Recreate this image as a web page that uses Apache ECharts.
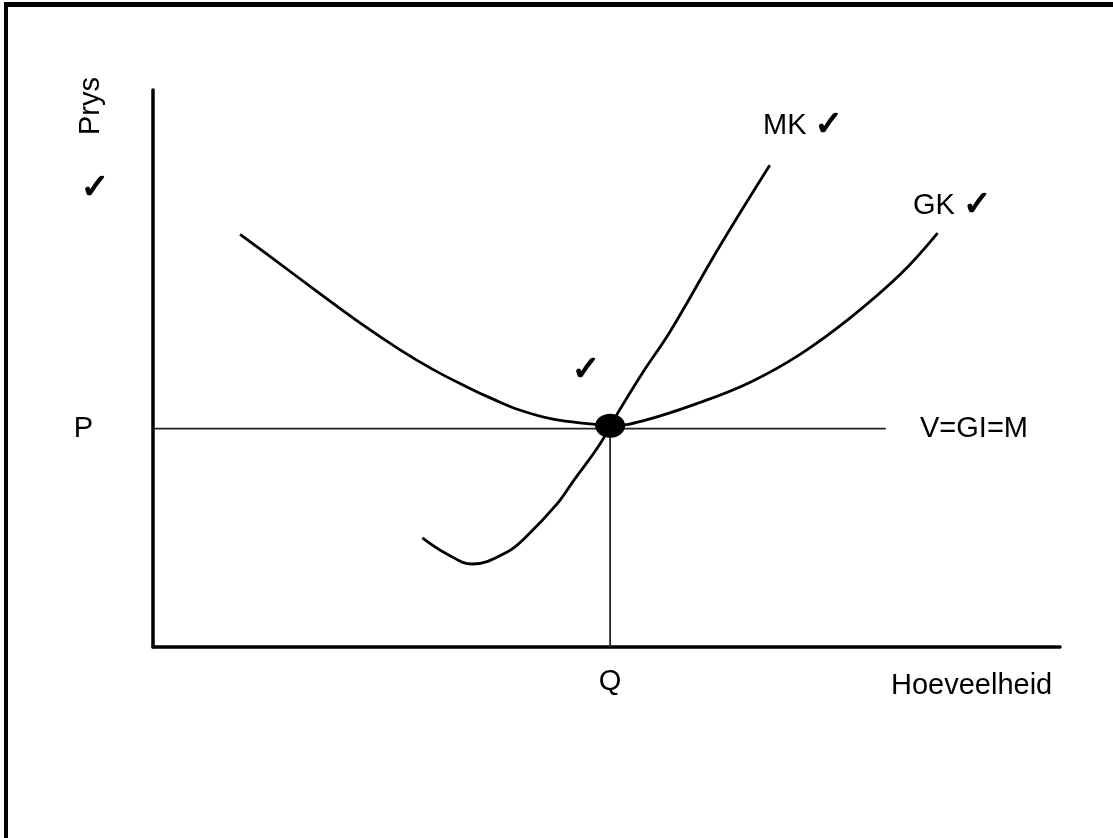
<!DOCTYPE html>
<html>
<head>
<meta charset="utf-8">
<title>Prys / Hoeveelheid</title>
<script src="https://cdn.jsdelivr.net/npm/echarts@6/dist/echarts.min.js"></script>
<style>
  html, body { margin: 0; padding: 0; background: #fff; }
  #chart { width: 1113px; height: 838px; }
</style>
</head>
<body>
<div id="chart"></div>
<script>
// GK (gemiddelde koste) curve
const gkX = [9.6, 12.6, 18.1, 22.9, 27.2, 30.9, 34.6, 37.5, 40.5, 44.1, 48.5, 50.4, 54.0, 60.3, 65.8, 71.3, 76.8, 82.4, 86.5]
const gkY = [74.1, 70.5, 63.8, 58.1, 53.4, 49.8, 46.7, 44.5, 42.5, 40.9, 40.0, 39.7, 40.6, 43.9, 47.5, 52.5, 59.0, 66.9, 74.3]
// MK (marginale koste) curve
const mkX = [29.7, 32.4, 35.2, 39.0, 41.2, 44.5, 46.3, 49.3, 51.2, 54.0, 57.0, 62.5, 68.0]
const mkY = [19.6, 16.7, 14.9, 17.0, 19.9, 25.6, 29.7, 36.5, 41.9, 49.3, 56.6, 72.0, 86.5]
// equilibrium price / quantity and end of the V=GI=M line
const priceP = 39.2
const quantityQ = 50.4
const priceLineEnd = 80.8

const font = 'Liberation Sans, Arial, DejaVu Sans, sans-serif'
const tick = '\u2713'
const tickStyle = { font: '34px DejaVu Sans', fill: '#000', stroke: '#000', lineWidth: 1.4 }

const chart = echarts.init(document.getElementById('chart'))

const zip = (xs, ys) => xs.map((x, i) => [x, ys[i]])

const option = {
  animation: false,
  backgroundColor: '#fff',
  grid: { left: 153, right: 53, top: 90, bottom: 191 },
  xAxis: {
    type: 'value',
    min: 0,
    max: 100,
    splitLine: { show: false },
    axisTick: { show: false },
    axisLine: { lineStyle: { color: '#000', width: 3.5 } },
    axisLabel: {
      customValues: [quantityQ],
      formatter: () => 'Q',
      color: '#000',
      fontFamily: font,
      fontSize: 29,
      margin: 20
    }
  },
  yAxis: {
    type: 'value',
    min: 0,
    max: 100,
    splitLine: { show: false },
    axisTick: { show: false },
    axisLine: { lineStyle: { color: '#000', width: 3.5 } },
    axisLabel: {
      customValues: [priceP],
      formatter: () => 'P',
      color: '#000',
      fontFamily: font,
      fontSize: 29,
      margin: 60,
      padding: [0, 0, 19, 0]
    }
  },
  graphic: [
    { type: 'rect', shape: { x: 4, y: 2, width: 1109, height: 5 }, style: { fill: '#000' } },
    { type: 'rect', shape: { x: 4, y: 2, width: 4, height: 836 }, style: { fill: '#000' } },
    {
      type: 'text', x: 91, y: 106, rotation: Math.PI / 2,
      style: { text: 'Prys', font: '29px ' + font, fill: '#000', align: 'center', verticalAlign: 'middle' }
    },
    {
      type: 'text', x: 95, y: 189,
      style: Object.assign({ text: tick, align: 'center', verticalAlign: 'middle' }, tickStyle)
    },
    {
      type: 'text', x: 586, y: 371,
      style: Object.assign({ text: tick, align: 'center', verticalAlign: 'middle' }, tickStyle)
    },
    {
      type: 'text', x: 763, y: 126,
      style: {
        text: 'MK {t|' + tick + '}', font: '29px ' + font, fill: '#000', align: 'left', verticalAlign: 'middle',
        rich: { t: tickStyle }
      }
    },
    {
      type: 'text', x: 913, y: 206,
      style: {
        text: 'GK {t|' + tick + '}', font: '29px ' + font, fill: '#000', align: 'left', verticalAlign: 'middle',
        rich: { t: tickStyle }
      }
    },
    {
      type: 'text', x: 920, y: 429,
      style: { text: 'V=GI=M', font: '29px ' + font, fill: '#000', align: 'left', verticalAlign: 'middle' }
    },
    {
      type: 'text', x: 891, y: 686,
      style: { text: 'Hoeveelheid', font: '29px ' + font, fill: '#000', align: 'left', verticalAlign: 'middle' }
    }
  ],
  series: [
    {
      name: 'V=GI=M',
      type: 'line',
      data: [[0, priceP], [priceLineEnd, priceP]],
      symbol: 'none',
      lineStyle: { color: '#222', width: 1.8 }
    },
    {
      name: 'Q',
      type: 'line',
      data: [[quantityQ, 0], [quantityQ, priceP]],
      symbol: 'none',
      lineStyle: { color: '#222', width: 1.8 }
    },
    {
      name: 'GK',
      type: 'line',
      data: zip(gkX, gkY),
      smooth: 0.4,
      symbol: 'none',
      lineStyle: { color: '#000', width: 2.8 }
    },
    {
      name: 'MK',
      type: 'line',
      data: zip(mkX, mkY),
      smooth: 0.4,
      symbol: 'none',
      lineStyle: { color: '#000', width: 2.8 }
    },
    {
      name: 'ewewig',
      type: 'scatter',
      data: [[quantityQ, priceP]],
      symbol: 'circle',
      symbolSize: [30, 24],
      symbolOffset: [0, -3],
      itemStyle: { color: '#000', opacity: 1 },
      z: 5
    }
  ]
}

chart.setOption(option)
</script>
</body>
</html>
